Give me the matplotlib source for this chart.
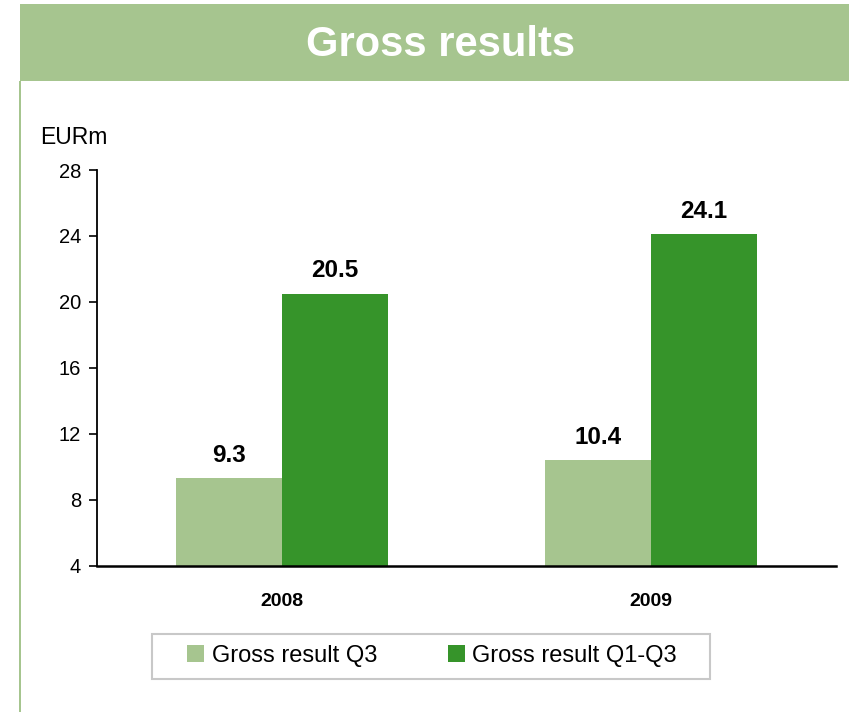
import matplotlib.pyplot as plt
from matplotlib.patches import Rectangle
import numpy as np

plt.rcParams['font.family'] = ['Liberation Sans', 'DejaVu Sans']

years = ["2008", "2009"]
q3 = [9.3, 10.4]
q1_q3 = [20.5, 24.1]
series_names = ["Gross result Q3", "Gross result Q1-Q3"]
y_ticks = [4, 8, 12, 16, 20, 24, 28]

light = '#a6c58f'
dark = '#36942a'

W, H = 849, 712
fig = plt.figure(figsize=(W / 100, H / 100), dpi=100)

# title banner and left border line (figure pixels)
fig.patches.append(Rectangle((20 / W, 1 - 81 / H), 1 - 20 / W, 77 / H,
                             transform=fig.transFigure, facecolor=light,
                             edgecolor='none'))
fig.patches.append(Rectangle((19 / W, 0), 2 / W, 1 - 81 / H,
                             transform=fig.transFigure, facecolor=light,
                             edgecolor='none'))
fig.text(441 / W, 1 - 56 / H, "Gross results", color='white', fontsize=30,
         fontweight='bold', ha='center', va='baseline')

ax = fig.add_axes([97 / W, 1 - 565.7 / H, 738.5 / W, 395.7 / H])
x = np.arange(len(years))
w = 0.287
b1 = ax.bar(x - w / 2, np.array(q3) - 4, w, bottom=4, color=light,
            label=series_names[0])
b2 = ax.bar(x + w / 2, np.array(q1_q3) - 4, w, bottom=4, color=dark,
            label=series_names[1])

for xs, vals in [(x - w / 2, q3), (x + w / 2, q1_q3)]:
    for xi, v in zip(xs, vals):
        ax.annotate(f"{v:.1f}", (xi, v), xytext=(0, 12), textcoords='offset points',
                    ha='center', va='baseline', fontsize=17.5, fontweight='bold')

ax.set_xlim(-0.5, 1.5)
ax.set_ylim(4, 28)
ax.set_yticks(y_ticks)
ax.set_yticklabels([str(t) for t in y_ticks], fontsize=14.5)
ax.set_xticks(x)
ax.set_xticklabels(years, fontsize=14, fontweight='bold')
ax.tick_params(axis='x', length=0, pad=20)
ax.tick_params(axis='y', length=6, width=1.2, pad=5.5)
for s in ['top', 'right']:
    ax.spines[s].set_visible(False)
ax.spines['left'].set_linewidth(1.3)
ax.spines['bottom'].set_linewidth(1.8)

fig.text(40 / W, 1 - 138 / H, "EURm", fontsize=16.5, ha='left', va='center')

# legend with its own box
fig.patches.append(Rectangle((152 / W, 1 - 679 / H), 558 / W, 45 / H,
                             transform=fig.transFigure, facecolor='white',
                             edgecolor='#c8c8c8', linewidth=1.5))
leg = fig.legend(handles=[b1, b2], loc='center', bbox_to_anchor=(432 / W, 1 - 656 / H),
                 ncol=2, frameon=False, fontsize=17, handlelength=0.72,
                 handleheight=0.72, handletextpad=0.3, columnspacing=3.0)

fig.savefig('out.png', dpi=100, facecolor='white')
